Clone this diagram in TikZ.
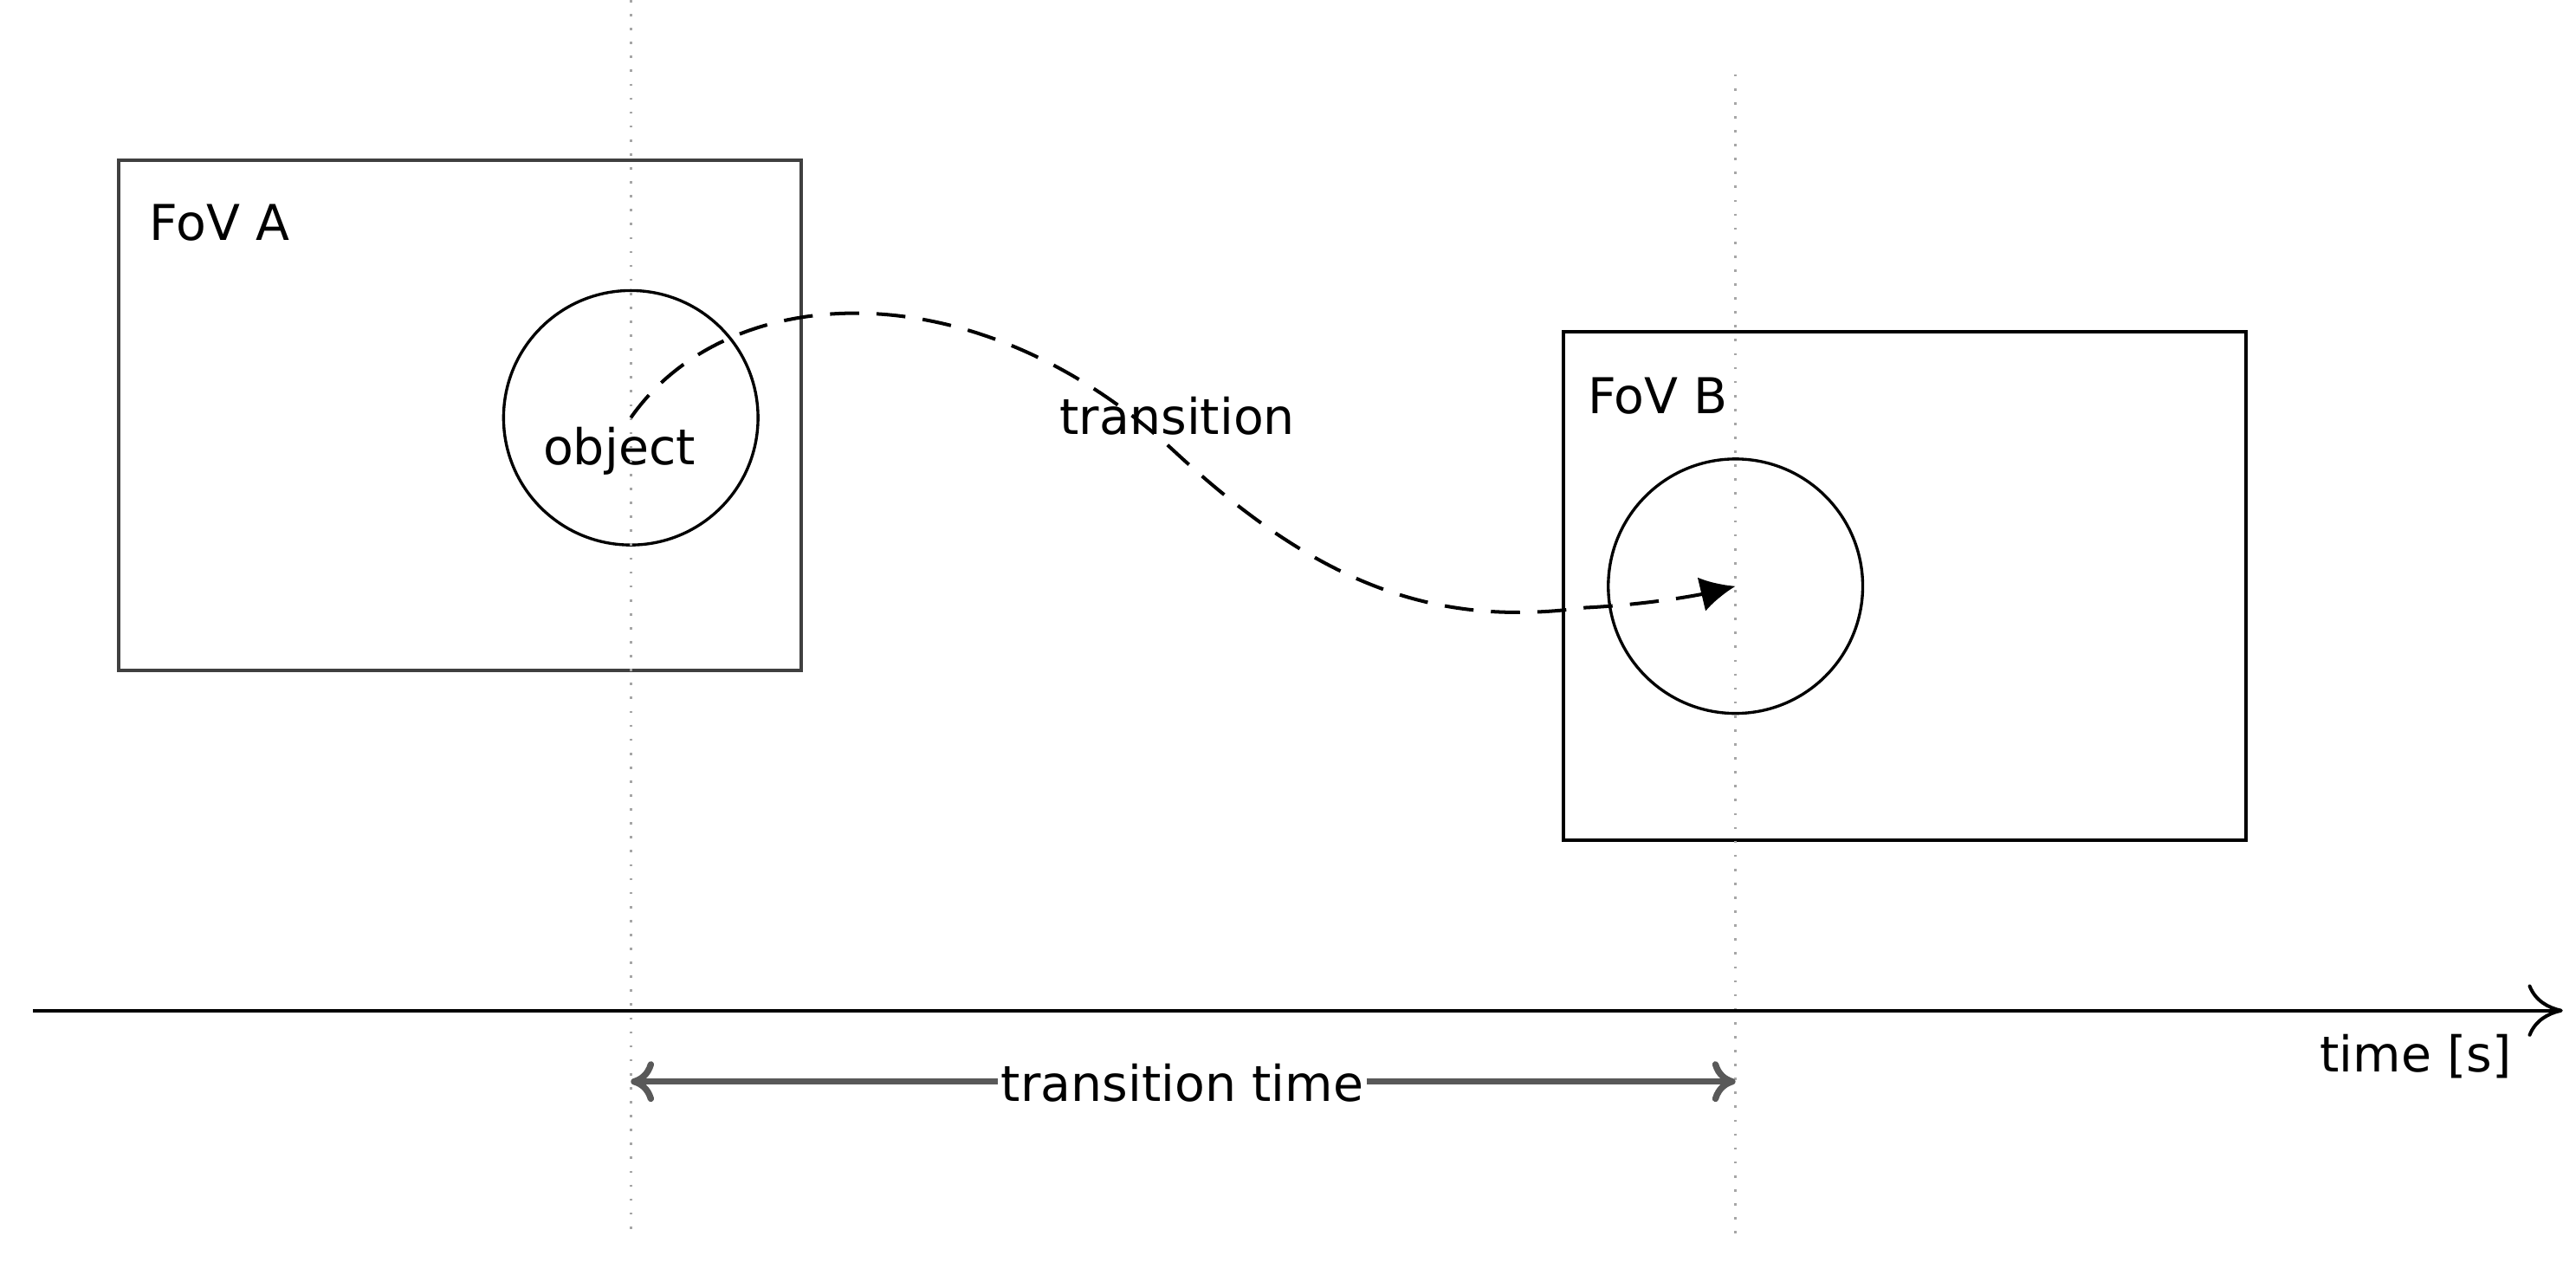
\documentclass[tikz,border=0pt]{standalone}
\usepackage{fontspec}
\setmainfont{DejaVu Sans}
\usetikzlibrary{arrows.meta}
\begin{document}
\begin{tikzpicture}[x=0.01cm,y=-0.01cm,
  lbl/.style={font=\fontsize{8.5}{10}\selectfont,inner sep=0pt},
  fov/.style={draw,line width=0.6pt},
  guide/.style={draw=gray!70,dotted,line width=0.4pt}]
\useasboundingbox (0,0) rectangle (1560,780);
\draw[fov,draw=black!75] (72,97) rectangle (485,406);
\draw[fov] (947,201) rectangle (1360,509);
\node[draw,circle,minimum size=154\pgflinewidth,inner sep=0pt,minimum size=1.54cm,line width=0.5pt] (ca) at (382,253) {};
\node[draw,circle,inner sep=0pt,minimum size=1.54cm,line width=0.5pt] (cb) at (1051,355) {};
\node[lbl] (fa) at (133,135) {FoV A};
\node[lbl] (fb) at (1004,240) {FoV B};
\node[lbl] (ob) at (375,273) {object};
\node[lbl] (tr) at (713,252) {transition};
\coordinate (ta) at (382,0); \coordinate (tb) at (382,745);
\coordinate (ua) at (1051,45); \coordinate (ub) at (1051,750);
\draw[guide] (ta) -- (tb);
\draw[guide] (ua) -- (ub);
\coordinate (ax0) at (20,612); \coordinate (ax1) at (1552,612);
\draw[line width=0.6pt,-{To[length=6pt,width=9pt]}] (ax0) -- (ax1);
\node[lbl] (tm) at (1463,640) {time [s]};
\coordinate (s0) at (382,655); \coordinate (s1) at (1051,655);
\draw[draw=black!65,line width=1.1pt,{To[length=4pt,width=7pt]}-{To[length=4pt,width=7pt]}] (s0) -- (s1);
\node[lbl,fill=white,inner sep=0.5pt] (tt) at (716,656) {transition time};
\coordinate (p0) at (382,253); \coordinate (p1) at (1051,355);
\draw[dashed,dash pattern=on 5pt off 3pt,line width=0.6pt,-{Latex[length=6pt,width=6pt]}]
  (p0) .. controls (440,170) and (590,160) .. (713,275)
  .. controls (800,355) and (870,380) .. (960,368)
  .. controls (1000,366) and (1030,360) .. (p1);
\end{tikzpicture}
\end{document}
